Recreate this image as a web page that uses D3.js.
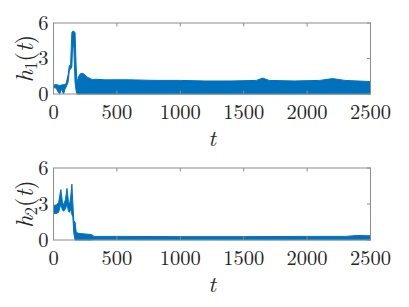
<!DOCTYPE html>
<html>
<head>
<meta charset="utf-8">
<script src="https://cdn.jsdelivr.net/npm/d3@7"></script>
<style>
  body { margin: 0; background: #fff; }
</style>
</head>
<body>
<svg id="chart" width="409" height="307"></svg>
<script>
// envelope of the dense signal
let xTicks = [0, 500, 1000, 1500, 2000, 2500]
let yTicks = [0, 3, 6]

let t1  = [0, 20, 40, 50, 60, 80, 90, 100, 115, 125, 135, 145, 150, 160, 170, 178, 185, 195, 210, 230, 250, 270, 290, 310, 330, 400, 600, 800, 1000, 1200, 1400, 1600, 1650, 1700, 1900, 2100, 2200, 2300, 2500]
let h1hi = [0.75, 0.8, 0.75, 0.7, 0.75, 0.8, 0.8, 0.9, 1.6, 2.4, 2.5, 5.2, 5.3, 5.3, 5.2, 2.5, 0.9, 1.4, 1.7, 1.75, 1.6, 1.4, 1.3, 1.2, 1.25, 1.2, 1.2, 1.15, 1.15, 1.1, 1.1, 1.15, 1.35, 1.15, 1.1, 1.15, 1.3, 1.15, 1.05]
let h1lo = [0.55, 0.5, 0.1, 0.0, 0.45, 0.0, 0.4, 0.6, 1.0, 2.0, 2.1, 2.3, 4.0, 4.0, 1.0, 0.3, 0, 0, 0, 0, 0, 0, 0, 0, 0, 0, 0, 0, 0, 0, 0, 0, 0, 0, 0, 0, 0, 0, 0]

let t2  = [0, 20, 40, 58, 70, 80, 95, 106, 118, 125, 135, 145, 152, 160, 170, 180, 190, 200, 250, 300, 320, 500, 1000, 1500, 2000, 2300, 2400, 2500]
let h2hi = [2.9, 2.9, 3.1, 4.2, 3.2, 2.9, 3.4, 4.3, 3.2, 2.9, 3.5, 4.65, 3.2, 1.6, 1.5, 0.6, 0.6, 0.55, 0.5, 0.45, 0.3, 0.3, 0.28, 0.28, 0.3, 0.3, 0.38, 0.35]
let h2lo = [2.2, 2.2, 2.3, 3.0, 2.5, 2.4, 2.6, 3.0, 2.4, 2.3, 2.6, 2.1, 2.0, 0.6, 0, 0, 0, 0, 0, 0, 0.02, 0.02, 0.02, 0.02, 0.02, 0.02, 0.02, 0.02]

const blue = '#0072BD'
const boxColor = '#8c8c8c'
const serif = "'Latin Modern Roman', 'Liberation Serif', serif"
let svg = d3.select('#chart')

let x = d3.scaleLinear().domain([0, 2500]).range([53.5, 370.5])

function panel(top, bottom, t, lo, hi, sub) {
  let y = d3.scaleLinear().domain([0, 6]).range([bottom, top])
  let g = svg.append('g')
  let pts = t.map((d, i) => ({ t: d, lo: lo[i], hi: hi[i] }))

  g.append('path')
    .datum(pts)
    .attr('fill', blue)
    .attr('d', d3.area().x(d => x(d.t)).y0(d => y(d.lo)).y1(d => y(d.hi)))
  ;['hi', 'lo'].forEach(k => {
    g.append('path')
      .datum(pts)
      .attr('fill', 'none')
      .attr('stroke', blue)
      .attr('stroke-width', 1)
      .attr('d', d3.line().x(d => x(d.t)).y(d => y(d[k])))
  })

  // box and inward ticks on all four sides
  g.append('rect')
    .attr('x', x(0)).attr('y', top)
    .attr('width', x(2500) - x(0)).attr('height', bottom - top)
    .attr('fill', 'none').attr('stroke', boxColor).attr('stroke-width', 1)

  let tl = 3.5
  g.selectAll('line.xt').data(xTicks).enter().append('line')
    .attr('x1', d => x(d)).attr('x2', d => x(d))
    .attr('y1', top).attr('y2', top + tl)
    .attr('stroke', boxColor)
  g.selectAll('line.xb').data(xTicks).enter().append('line')
    .attr('x1', d => x(d)).attr('x2', d => x(d))
    .attr('y1', bottom).attr('y2', bottom - tl)
    .attr('stroke', boxColor)
  g.selectAll('line.yr').data(yTicks).enter().append('line')
    .attr('x1', x(2500)).attr('x2', x(2500) - tl)
    .attr('y1', d => y(d)).attr('y2', d => y(d))
    .attr('stroke', boxColor)

  g.selectAll('text.xl').data(xTicks).enter().append('text')
    .attr('x', d => x(d)).attr('y', bottom + 25)
    .attr('text-anchor', 'middle')
    .style('font-family', serif).style('font-size', '20.5px')
    .attr('fill', '#262626')
    .text(d => d)
  g.selectAll('text.yl').data(yTicks).enter().append('text')
    .attr('x', x(0) - 5).attr('y', d => y(d) + 6.5)
    .attr('text-anchor', 'end')
    .style('font-family', serif).style('font-size', '20.5px')
    .attr('fill', '#262626')
    .text(d => d)

  g.append('text')
    .attr('x', (x(0) + x(2500)) / 2).attr('y', bottom + 52)
    .attr('text-anchor', 'middle')
    .style('font-family', serif).style('font-size', '23px').style('font-style', 'italic')
    .attr('fill', '#262626')
    .text('t')

  let lab = g.append('text')
    .attr('transform', `translate(33,${(top + bottom) / 2}) rotate(-90)`)
    .attr('text-anchor', 'middle')
    .style('font-family', serif).style('font-size', '24px')
    .attr('fill', '#262626')
  lab.append('tspan').style('font-style', 'italic').text('h')
  lab.append('tspan').style('font-size', '17px').attr('dy', 4).text(sub)
  lab.append('tspan').attr('dy', -4).text('(')
  lab.append('tspan').style('font-style', 'italic').text('t')
  lab.append('tspan').text(')')
}

panel(23, 94, t1, h1lo, h1hi, '1')
panel(168, 240, t2, h2lo, h2hi, '2')
</script>
</body>
</html>
